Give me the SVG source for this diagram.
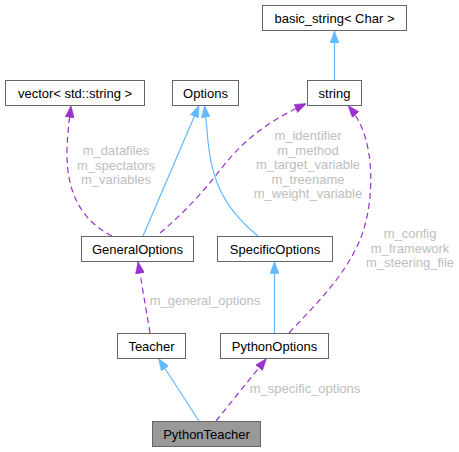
<svg xmlns="http://www.w3.org/2000/svg" width="459" height="452" viewBox="0 0 459 452">
<style>
  .node rect { fill: #ffffff; stroke: #666666; stroke-width: 1; }
  .node.main rect { fill: #999999; }
  .node text { font-family: "Liberation Sans", Arial, Helvetica, sans-serif; font-size: 13px; fill: #000000; text-anchor: middle; }
  .edge { fill: none; stroke-width: 1.2; }
  .inh { stroke: #63b8ff; marker-end: url(#arrBlue); }
  .use { stroke: #9a32cd; stroke-dasharray: 6,4; marker-end: url(#arrPurple); }
  .lbl { font-family: "Liberation Sans", Arial, Helvetica, sans-serif; font-size: 13px; fill: #bebebe; text-anchor: middle; }
</style>
<defs>
  <marker id="arrBlue" viewBox="0 0 12 9" refX="12" refY="4.5" markerWidth="12" markerHeight="9" markerUnits="userSpaceOnUse" orient="auto">
    <path d="M0,0 L12,4.5 L0,9 z" fill="#63b8ff" stroke="#63b8ff" stroke-width="0.5"/>
  </marker>
  <marker id="arrPurple" viewBox="0 0 12 9" refX="12" refY="4.5" markerWidth="12" markerHeight="9" markerUnits="userSpaceOnUse" orient="auto">
    <path d="M0,0 L12,4.5 L0,9 z" fill="#9a32cd" stroke="#9a32cd" stroke-width="0.5" stroke-dasharray="none"/>
  </marker>
</defs>
<rect width="459" height="452" fill="#ffffff"/>
<g id="edges">
  <path class="edge inh" d="M334.5,80 L334.5,31"/>
  <path class="edge inh" d="M143,236 L199,105.5"/>
  <path class="edge inh" d="M258,236 C220,205 210,175 207,130 L204.5,105.5"/>
  <path class="edge use" d="M112,236 C80,220 66,190 67,150 C67.5,130 70,115 71,105.5"/>
  <path class="edge use" d="M160,233 C185,212 205,190 220,170 C240,145 260,125 306.5,103.5"/>
  <path class="edge use" d="M289,333 C320,300 345,275 360,240 C372,210 374,170 366,140 C362,125 356,115 348,105.5"/>
  <path class="edge use" d="M150,333 L138,261.5"/>
  <path class="edge inh" d="M274.5,333 L274.5,261.5"/>
  <path class="edge inh" d="M199,421 L158.5,358.5"/>
  <path class="edge use" d="M216,421 L266.5,358.5"/>
  <text class="lbl" x="116" y="155">m_datafiles</text>
  <text class="lbl" x="116" y="169.5">m_spectators</text>
  <text class="lbl" x="116" y="184">m_variables</text>
  <text class="lbl" x="308" y="140">m_identifier</text>
  <text class="lbl" x="308" y="154.5">m_method</text>
  <text class="lbl" x="308" y="169">m_target_variable</text>
  <text class="lbl" x="308" y="183.5">m_treename</text>
  <text class="lbl" x="308" y="198">m_weight_variable</text>
  <text class="lbl" x="410" y="238">m_config</text>
  <text class="lbl" x="410" y="252.5">m_framework</text>
  <text class="lbl" x="410" y="267">m_steering_file</text>
  <text class="lbl" x="205" y="305">m_general_options</text>
  <text class="lbl" x="305" y="393">m_specific_options</text>
</g>
<g id="basic_string" class="node"><rect x="262.5" y="5.5" width="144" height="25"/><text x="334.5" y="22.5">basic_string&lt; Char &gt;</text></g>
<g id="vector" class="node"><rect x="5.5" y="80.5" width="139" height="25"/><text x="75" y="97.5">vector&lt; std::string &gt;</text></g>
<g id="Options" class="node"><rect x="172.5" y="80.5" width="66" height="25"/><text x="205.5" y="97.5">Options</text></g>
<g id="string" class="node"><rect x="307.5" y="80.5" width="54" height="25"/><text x="334.5" y="97.5">string</text></g>
<g id="GeneralOptions" class="node"><rect x="81.5" y="236.5" width="112" height="25"/><text x="137.5" y="253.5">GeneralOptions</text></g>
<g id="SpecificOptions" class="node"><rect x="217.5" y="236.5" width="115" height="25"/><text x="275" y="253.5">SpecificOptions</text></g>
<g id="Teacher" class="node"><rect x="117.5" y="333.5" width="68" height="25"/><text x="151.5" y="350.5">Teacher</text></g>
<g id="PythonOptions" class="node"><rect x="220.5" y="333.5" width="108" height="25"/><text x="274.5" y="350.5">PythonOptions</text></g>
<g id="PythonTeacher" class="node main"><rect x="152.5" y="421.5" width="108" height="25"/><text x="206.5" y="438.5">PythonTeacher</text></g>
</svg>
